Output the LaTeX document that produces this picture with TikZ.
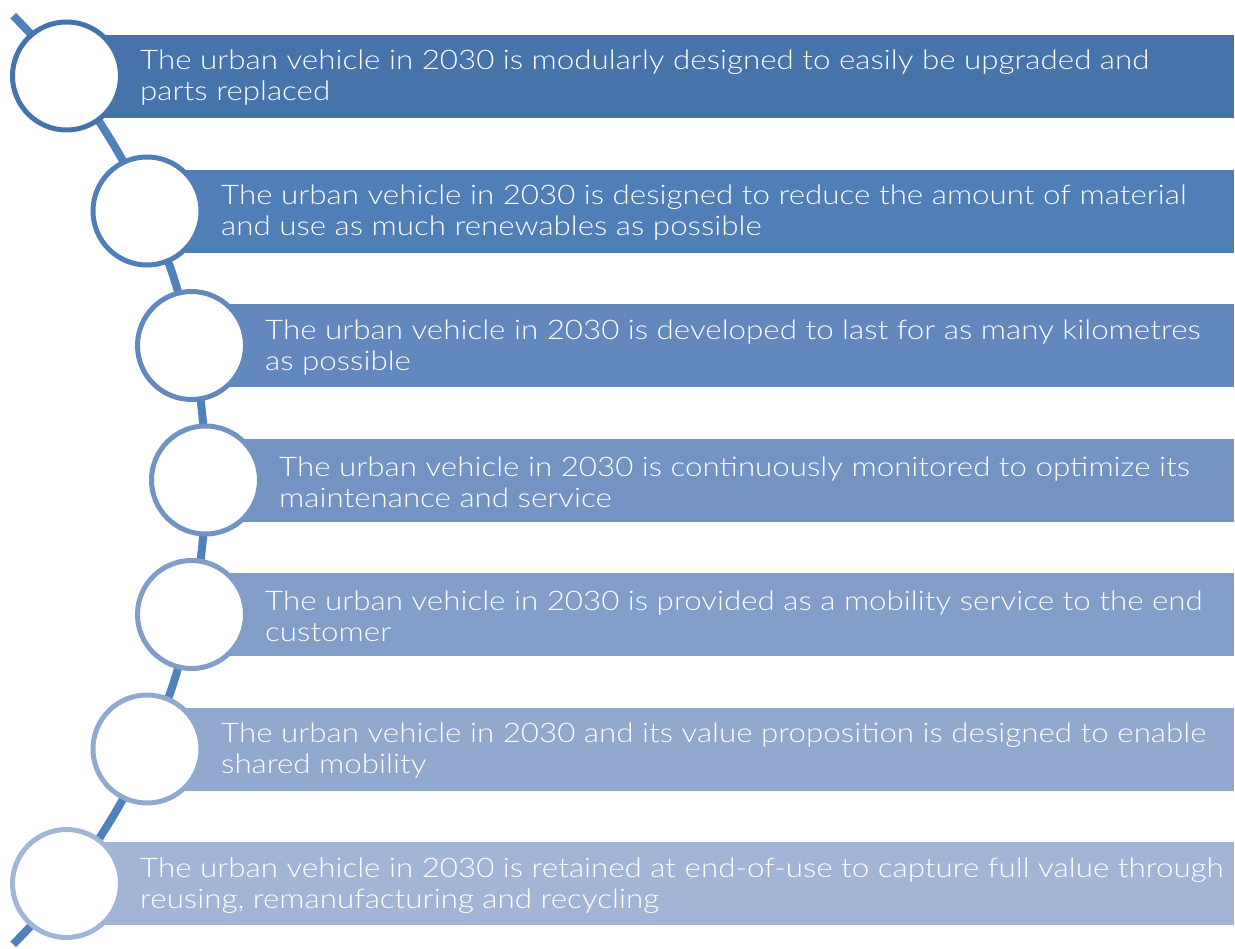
\documentclass[tikz,border=0pt]{standalone}
\usepackage{fontspec}
\setmainfont{Lato Light}[FakeStretch=1.16]
\definecolor{cA}{HTML}{4673A9}
\definecolor{cB}{HTML}{507EB6}
\definecolor{cC}{HTML}{6388BD}
\definecolor{cD}{HTML}{7393C3}
\definecolor{cE}{HTML}{819DC8}
\definecolor{cF}{HTML}{91A9CE}
\definecolor{cG}{HTML}{A3B5D6}
\definecolor{arcblue}{HTML}{4F81BD}
\tikzset{
  band/.style={fill=#1, draw=white, line width=0.8pt},
  bead/.style={circle, draw=#1, fill=white, line width=5pt, minimum size=108pt, inner sep=0pt},
  label/.style={anchor=west, text=white, align=left, inner sep=0pt, font=\fontsize{27}{31}\selectfont},
  spine/.style={draw=arcblue, line width=8pt}
}
\begin{document}
\begin{tikzpicture}[x=1pt,y=-1pt]
\useasboundingbox (0,0) rectangle (1235,949);
\coordinate (ac) at (-451.1,480);
\draw[spine] ([shift={(45:656.6)}]ac) arc[start angle=45, end angle=-45, radius=656.6];
% bands
\foreach \cx/\cy/\col [count=\i] in {66.5/76/cA,147/211/cB,191.5/345.5/cC,205.5/480/cD,191.5/614.5/cE,147/749/cF,66.5/883.5/cG}{
  \fill[band=\col] (\cx,\cy-42) rectangle (1234.5,\cy+42);
}
\node[bead=cA] (c1) at (66.5,76) {};
\node[bead=cB] (c2) at (147,211) {};
\node[bead=cC] (c3) at (191.5,345.5) {};
\node[bead=cD] (c4) at (205.5,480) {};
\node[bead=cE] (c5) at (191.5,614.5) {};
\node[bead=cF] (c6) at (147,749) {};
\node[bead=cG] (c7) at (66.5,883.5) {};
\node[label] (t1) at (140,78) {The urban vehicle in 2030 is modularly designed to easily be upgraded and\\parts replaced};
\node[label] (t2) at (221,213) {The urban vehicle in 2030 is designed to reduce the amount of material\\and use as much renewables as possible};
\node[label] (t3) at (265,347.5) {The urban vehicle in 2030 is developed to last for as many kilometres\\as possible};
\node[label] (t4) at (279,482) {The urban vehicle in 2030 is continuously monitored to optimize its\\maintenance and service};
\node[label] (t5) at (265,616.5) {The urban vehicle in 2030 is provided as a mobility service to the end\\customer};
\node[label] (t6) at (221,751) {The urban vehicle in 2030 and its value proposition is designed to enable\\shared mobility};
\node[label] (t7) at (140,885.5) {The urban vehicle in 2030 is retained at end-of-use to capture full value through\\reusing, remanufacturing and recycling};
\end{tikzpicture}
\end{document}
